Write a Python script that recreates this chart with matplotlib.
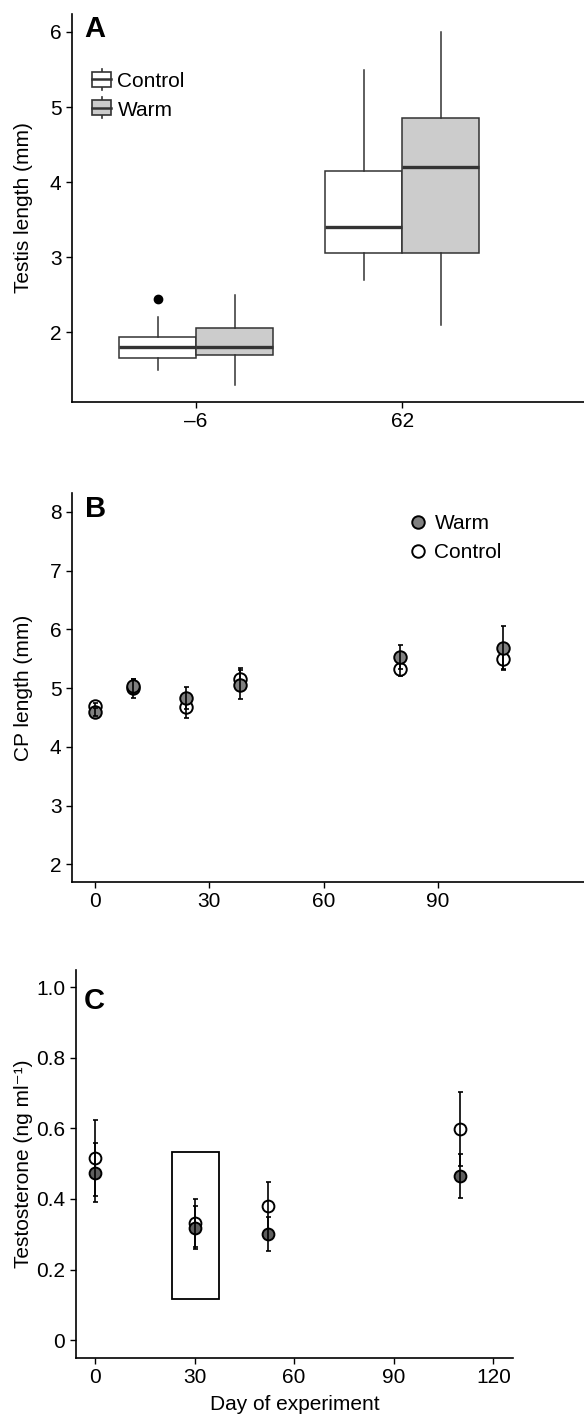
import matplotlib
matplotlib.use("Agg")
import matplotlib.pyplot as plt
from matplotlib.legend_handler import HandlerBase
from matplotlib.patches import Rectangle
from matplotlib.lines import Line2D

plt.rcParams['font.family'] = ['Liberation Sans', 'DejaVu Sans']
plt.rcParams['font.size'] = 15

# panel A: testis length boxplots (day -6 and day 62)
days_a = ["\u20136", "62"]
ctrl_box = [  # whislo, q1, med, q3, whishi
    [1.50, 1.65, 1.80, 1.93, 2.20],
    [2.70, 3.05, 3.40, 4.15, 5.50],
]
warm_box = [
    [1.30, 1.70, 1.80, 2.05, 2.50],
    [2.10, 3.05, 4.20, 4.85, 6.00],
]
ctrl_fliers = [[2.44], []]
warm_fliers = [[], []]

# panel B: CP length
days_b = [0, 10, 24, 38, 80, 107]
cp_warm = [4.60, 5.03, 4.83, 5.06, 5.53, 5.69]
cp_warm_se = [0.07, 0.12, 0.19, 0.25, 0.20, 0.36]
cp_ctrl = [4.69, 5.00, 4.68, 5.15, 5.33, 5.49]
cp_ctrl_se = [0.06, 0.16, 0.18, 0.20, 0.13, 0.18]

# panel C: testosterone
days_c = [0, 30, 52, 110]
t_warm = [0.475, 0.319, 0.301, 0.466]
t_warm_se = [0.085, 0.062, 0.049, 0.062]
t_ctrl = [0.516, 0.332, 0.379, 0.598]
t_ctrl_se = [0.107, 0.068, 0.070, 0.105]
# highlighted window in C (day range, value range)
box_days = [23.1, 37.5]
box_vals = [0.117, 0.533]

line_col = "#333333"
warm_fill = "#cccccc"


class BoxHandler(HandlerBase):
    # small boxplot glyph for the legend
    def __init__(self, fill):
        super().__init__()
        self.fill = fill

    def create_artists(self, legend, orig_handle, xd, yd, width, height, fontsize, trans):
        cx = xd + width / 2
        r = Rectangle((xd, yd), width, height,
                      facecolor=self.fill, edgecolor=line_col, lw=1.2, transform=trans)
        med = Line2D([xd, xd + width], [yd + height * 0.5] * 2, color=line_col, lw=1.8, transform=trans)
        w1 = Line2D([cx, cx], [yd + height, yd + height * 1.2], color=line_col, lw=1.2, transform=trans)
        w2 = Line2D([cx, cx], [yd - height * 0.2, yd], color=line_col, lw=1.2, transform=trans)
        return [w1, w2, r, med]


def style_axes(ax):
    for s in ["top", "right"]:
        ax.spines[s].set_visible(False)
    for s in ["left", "bottom"]:
        ax.spines[s].set_linewidth(1.2)
    ax.tick_params(direction="out", length=4, width=1.0, labelsize=15, colors="black")


fig = plt.figure(figsize=(5.84, 14.14), dpi=100)

# ---- panel A
axA = fig.add_axes([0.1233, 0.7157, 0.8767, 0.2744])
w = 0.374
pos = [1, 2]
common = dict(widths=w, showcaps=False, patch_artist=True, manage_ticks=False,
              whiskerprops=dict(color=line_col, lw=1.1),
              medianprops=dict(color=line_col, lw=2.4),
              flierprops=dict(marker="o", markerfacecolor="black", markeredgecolor="black", markersize=6))
for vals, fl, off, fill in [(ctrl_box, ctrl_fliers, -w / 2, "white"),
                            (warm_box, warm_fliers, w / 2, warm_fill)]:
    stats = []
    for v, f in zip(vals, fl):
        stats.append(dict(whislo=v[0], q1=v[1], med=v[2], q3=v[3], whishi=v[4], fliers=f))
    axA.bxp(stats, positions=[p + off for p in pos],
            boxprops=dict(facecolor=fill, edgecolor=line_col, lw=1.1), **common)
axA.set_xlim(0.398, 2.883)
axA.set_ylim(1.067, 6.24)
axA.set_xticks(pos)
axA.set_xticklabels(days_a)
axA.set_yticks([2, 3, 4, 5, 6])
axA.set_ylabel("Testis length (mm)", fontsize=15)
axA.yaxis.set_label_coords(-0.076, 0.5)
style_axes(axA)
hc = Rectangle((0, 0), 1, 1)
hw = Rectangle((0, 0), 1, 1)
axA.legend([hc, hw], ["Control", "Warm"], handler_map={hc: BoxHandler("white"), hw: BoxHandler(warm_fill)},
           loc="upper left", bbox_to_anchor=(0.04, 0.85), frameon=False, fontsize=15,
           handlelength=0.9, handleheight=0.75, handletextpad=0.3, labelspacing=0.45,
           borderpad=0, borderaxespad=0)
axA.text(0.023, 0.997, "A", transform=axA.transAxes, fontsize=21, fontweight="bold", va="top", ha="left")

# ---- panel B
axB = fig.add_axes([0.1233, 0.3762, 0.8767, 0.2751])
eb = dict(fmt="none", ecolor="black", elinewidth=1.2, capsize=1.8, capthick=1.2)
axB.errorbar(days_b, cp_ctrl, yerr=cp_ctrl_se, zorder=4, **eb)
hB_c, = axB.plot(days_b, cp_ctrl, "o", ms=9, mfc="white", mec="black", mew=1.4, zorder=3)
axB.errorbar(days_b, cp_warm, yerr=cp_warm_se, zorder=6, **eb)
hB_w, = axB.plot(days_b, cp_warm, "o", ms=9, mfc="#808080", mec="black", mew=1.4, zorder=5)
axB.set_xlim(-5.95, 128.3)
axB.set_ylim(1.70, 8.32)
axB.set_xticks([0, 30, 60, 90])
axB.set_yticks([2, 3, 4, 5, 6, 7, 8])
axB.set_ylabel("CP length (mm)", fontsize=15)
axB.yaxis.set_label_coords(-0.076, 0.5)
style_axes(axB)
axB.legend([hB_w, hB_c], ["Warm", "Control"], loc="upper left", bbox_to_anchor=(0.655, 0.945),
           frameon=False, fontsize=15, handlelength=1.0, handletextpad=0.3, labelspacing=0.45,
           borderpad=0, borderaxespad=0)
axB.text(0.025, 0.995, "B", transform=axB.transAxes, fontsize=21, fontweight="bold", va="top", ha="left")

# ---- panel C
axC = fig.add_axes([0.1296, 0.0398, 0.7493, 0.2742])
axC.errorbar(days_c, t_ctrl, yerr=t_ctrl_se, zorder=4, **eb)
axC.plot(days_c, t_ctrl, "o", ms=8.5, mfc="white", mec="black", mew=1.4, zorder=3)
axC.errorbar(days_c, t_warm, yerr=t_warm_se, zorder=6, **eb)
axC.plot(days_c, t_warm, "o", ms=8.5, mfc="#5f5f5f", mec="black", mew=1.4, zorder=5)
axC.add_patch(Rectangle((box_days[0], box_vals[0]), box_days[1] - box_days[0], box_vals[1] - box_vals[0],
                        facecolor="none", edgecolor="black", lw=1.3, zorder=2))
axC.set_xlim(-5.8, 126)
axC.set_ylim(-0.05, 1.049)
axC.set_xticks([0, 30, 60, 90, 120])
axC.set_yticks([0, 0.2, 0.4, 0.6, 0.8, 1.0])
axC.set_yticklabels(["0", "0.2", "0.4", "0.6", "0.8", "1.0"])
axC.set_ylabel("Testosterone (ng ml\u207b\u00b9)", fontsize=15)
axC.yaxis.set_label_coords(-0.0976, 0.5)
axC.set_xlabel("Day of experiment", fontsize=15, labelpad=6)
style_axes(axC)
axC.text(0.019, 0.956, "C", transform=axC.transAxes, fontsize=21, fontweight="bold", va="top", ha="left")

fig.savefig("out.png", dpi=100)
